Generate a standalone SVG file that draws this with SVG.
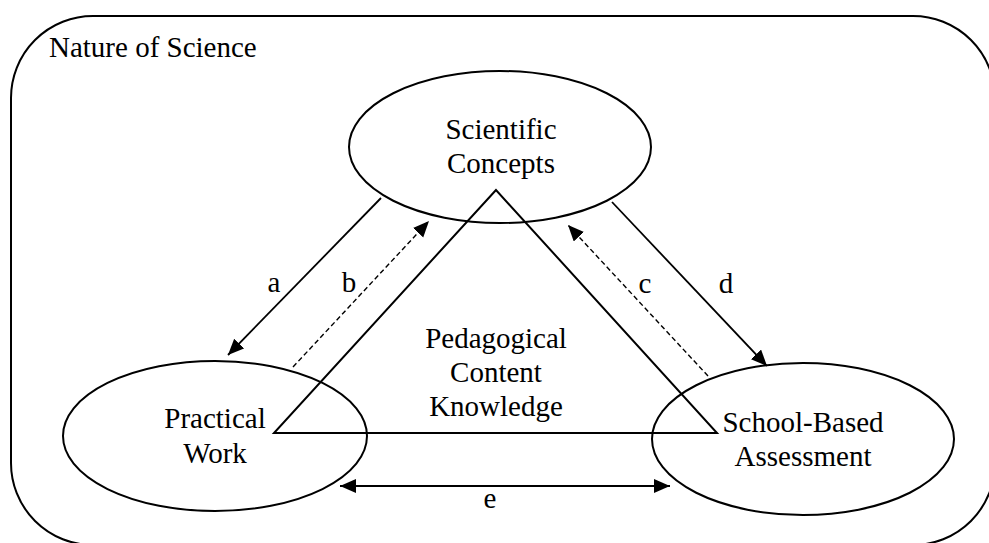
<svg xmlns="http://www.w3.org/2000/svg" width="989" height="543" viewBox="0 0 989 543">
<defs>
<style>
.shape{fill:none;stroke:#000;stroke-width:2}
.node ellipse{fill:none;stroke:#000;stroke-width:2}
.conn{fill:none;stroke:#000;stroke-width:1.8}
.dash{stroke-width:1.4;stroke-dasharray:5,3}
text{font-family:"Liberation Serif","Times New Roman",serif;font-size:29px;fill:#000}
.c{text-anchor:middle}
</style>
<marker id="ah" markerUnits="userSpaceOnUse" markerWidth="17" markerHeight="15" refX="16" refY="7" orient="auto-start-reverse">
<path d="M0,0 L16,7 L0,14 z" fill="#000"/>
</marker>
</defs>
<g id="nature-of-science">
<rect class="shape" x="11" y="16" width="984" height="529" rx="82" ry="82"/>
<text x="49" y="57">Nature of Science</text>
</g>
<g id="pck">
<polygon class="shape" points="496,190 274,433 717,433"/>
<text class="c" x="496" y="348">Pedagogical</text>
<text class="c" x="496" y="382">Content</text>
<text class="c" x="496" y="416">Knowledge</text>
</g>
<g id="scientific-concepts" class="node">
<ellipse cx="500" cy="147" rx="151" ry="76"/>
<text class="c" x="501" y="139">Scientific</text>
<text class="c" x="501" y="173">Concepts</text>
</g>
<g id="practical-work" class="node">
<ellipse cx="215" cy="436" rx="152" ry="75"/>
<text class="c" x="215" y="428">Practical</text>
<text class="c" x="215" y="463">Work</text>
</g>
<g id="school-based-assessment" class="node">
<ellipse cx="803" cy="439" rx="151" ry="76"/>
<text class="c" x="803" y="432">School-Based</text>
<text class="c" x="803" y="466">Assessment</text>
</g>
<g id="connectors">
<line class="conn" x1="381" y1="198" x2="228" y2="355" marker-end="url(#ah)"/>
<line class="conn dash" x1="293" y1="367" x2="429" y2="221" marker-end="url(#ah)"/>
<line class="conn dash" x1="708" y1="376" x2="568" y2="225" marker-end="url(#ah)"/>
<line class="conn" x1="612" y1="202" x2="767" y2="366" marker-end="url(#ah)"/>
<line class="conn" x1="340" y1="486" x2="670" y2="486" marker-start="url(#ah)" marker-end="url(#ah)"/>
<text class="c" x="274" y="292">a</text>
<text class="c" x="349" y="292">b</text>
<text class="c" x="645" y="293">c</text>
<text class="c" x="726" y="293">d</text>
<text class="c" x="490" y="508">e</text>
</g>
</svg>
